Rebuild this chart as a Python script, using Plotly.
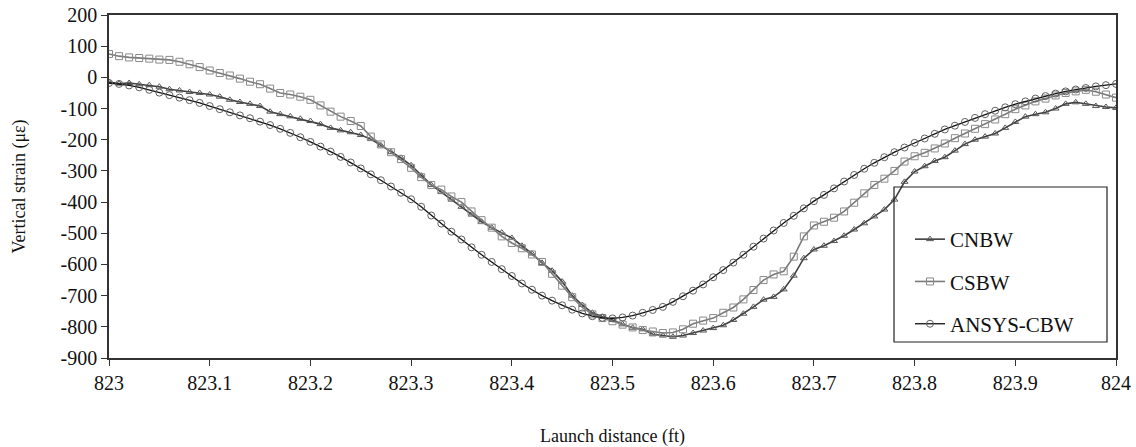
import plotly.graph_objects as go

# Launch distance (ft), 0.01 ft steps from 823.00 to 824.00
distance = [round(823 + i * 0.01, 2) for i in range(101)]

cnbw = [-15, -20, -18, -22, -25, -30, -38, -42, -47, -50,
        -55, -62, -72, -79, -85, -92, -110, -118, -125, -133,
        -140, -150, -162, -170, -176, -185, -198, -218, -240, -258,
        -282, -315, -345, -368, -392, -415, -440, -463, -482, -498,
        -515, -540, -565, -595, -620, -655, -700, -730, -755, -768,
        -778, -792, -803, -808, -824, -828, -832, -828, -820, -812,
        -804, -795, -778, -758, -736, -713, -704, -680, -636, -580,
        -552, -540, -525, -508, -488, -468, -446, -424, -392, -335,
        -302, -285, -268, -256, -235, -214, -200, -190, -180, -162,
        -143, -126, -118, -112, -100, -85, -80, -85, -92, -95,
        -98]

csbw = [75, 68, 64, 62, 60, 57, 56, 50, 42, 33,
        22, 14, 6, -4, -14, -22, -36, -50, -55, -62,
        -72, -90, -110, -126, -140, -156, -190, -215, -240, -262,
        -290, -320, -345, -360, -382, -400, -430, -458, -482, -510,
        -531, -548, -568, -592, -630, -668, -705, -738, -760, -772,
        -782, -793, -802, -810, -815, -820, -818, -808, -790, -780,
        -772, -755, -738, -712, -682, -650, -632, -622, -575, -510,
        -475, -463, -450, -430, -402, -372, -345, -325, -300, -270,
        -253, -242, -228, -212, -195, -180, -165, -150, -135, -118,
        -102, -90, -77, -68, -58, -50, -45, -40, -46, -55,
        -65]

ansys = [-18, -21, -26, -32, -40, -49, -57, -65, -73, -82,
         -92, -102, -112, -122, -131, -142, -153, -165, -178, -192,
         -207, -222, -238, -255, -273, -292, -311, -330, -350, -370,
         -391, -415, -443, -469, -495, -520, -545, -569, -592, -615,
         -637, -661, -681, -700, -716, -731, -745, -757, -766, -771,
         -773, -770, -764, -755, -746, -736, -720, -702, -684, -664,
         -641, -618, -594, -569, -543, -517, -491, -467, -444, -420,
         -397, -377, -356, -334, -313, -293, -274, -256, -240, -225,
         -210, -196, -181, -167, -155, -143, -130, -118, -107, -96,
         -86, -77, -68, -60, -52, -45, -39, -34, -29, -25,
         -21]

x_tickvals = [823, 823.1, 823.2, 823.3, 823.4, 823.5, 823.6, 823.7, 823.8, 823.9, 824]
x_ticktext = ["823", "823.1", "823.2", "823.3", "823.4", "823.5", "823.6", "823.7", "823.8", "823.9", "824"]
y_tickvals = [200, 100, 0, -100, -200, -300, -400, -500, -600, -700, -800, -900]
y_ticktext = ["200", "100", "0", "-100", "-200", "-300", "-400", "-500", "-600", "-700", "-800", "-900"]

FONT = "Liberation Serif"
W, H = 1136, 447
ML, MR, MT, MB = 109, 20, 15, 89
PW, PH = W - ML - MR, H - MT - MB

fig = go.Figure()
fig.add_trace(go.Scatter(
    x=distance, y=cnbw, name="CNBW", mode="lines+markers", legendgroup="a",
    line=dict(color="#3f3f3f", width=1.6),
    marker=dict(symbol="triangle-up-open", size=6, color="#555555", line=dict(width=1))))
fig.add_trace(go.Scatter(
    x=distance, y=csbw, name="CSBW", mode="lines+markers", legendgroup="b",
    line=dict(color="#7a7a7a", width=1.6),
    marker=dict(symbol="square-open", size=7, color="#8a8a8a", line=dict(width=1))))
fig.add_trace(go.Scatter(
    x=distance, y=ansys, name="ANSYS-CBW", mode="lines+markers", legendgroup="c",
    line=dict(color="#111111", width=1.3),
    marker=dict(symbol="circle-open", size=7, color="#606060", line=dict(width=1))))

# legend frame (pixel box 894..1107 x 187..342)
fig.add_shape(type="rect", xref="paper", yref="paper",
              x0=(894 - ML) / PW, x1=(1107 - ML) / PW,
              y0=(H - MB - 342) / PH, y1=(H - MB - 187) / PH,
              line=dict(color="#222222", width=1.2), fillcolor="rgba(0,0,0,0)", layer="above")

fig.update_layout(
    width=W, height=H,
    margin=dict(l=ML, r=MR, t=MT, b=MB),
    paper_bgcolor="white", plot_bgcolor="white",
    font=dict(family=FONT, size=20, color="#111111"),
    showlegend=True,
    legend=dict(x=(910 - ML) / PW, y=(H - MB - 219) / PH, xanchor="left", yanchor="top",
                borderwidth=0, bgcolor="rgba(0,0,0,0)",
                font=dict(family=FONT, size=21), tracegroupgap=12,
                traceorder="grouped"),
    xaxis=dict(range=[823, 824], tickvals=x_tickvals, ticktext=x_ticktext, automargin=False,
               showgrid=False, zeroline=False, showline=True, linecolor="#333333",
               linewidth=1.5, mirror=True, ticks="outside", ticklen=6, tickcolor="#333333",
               tickfont=dict(family=FONT, size=20),
               title=dict(text="Launch distance (ft)", font=dict(family=FONT, size=18), standoff=47)),
    yaxis=dict(range=[-900, 200], tickvals=y_tickvals, ticktext=y_ticktext, automargin=False,
               showgrid=False, zeroline=False, showline=True, linecolor="#333333",
               linewidth=1.5, mirror=True, ticks="outside", ticklen=6, tickcolor="#333333",
               tickfont=dict(family=FONT, size=20),
               title=dict(text="Vertical strain (\u03bc\u03b5)", font=dict(family=FONT, size=18), standoff=30)),
)

fig.write_html("out.html")
